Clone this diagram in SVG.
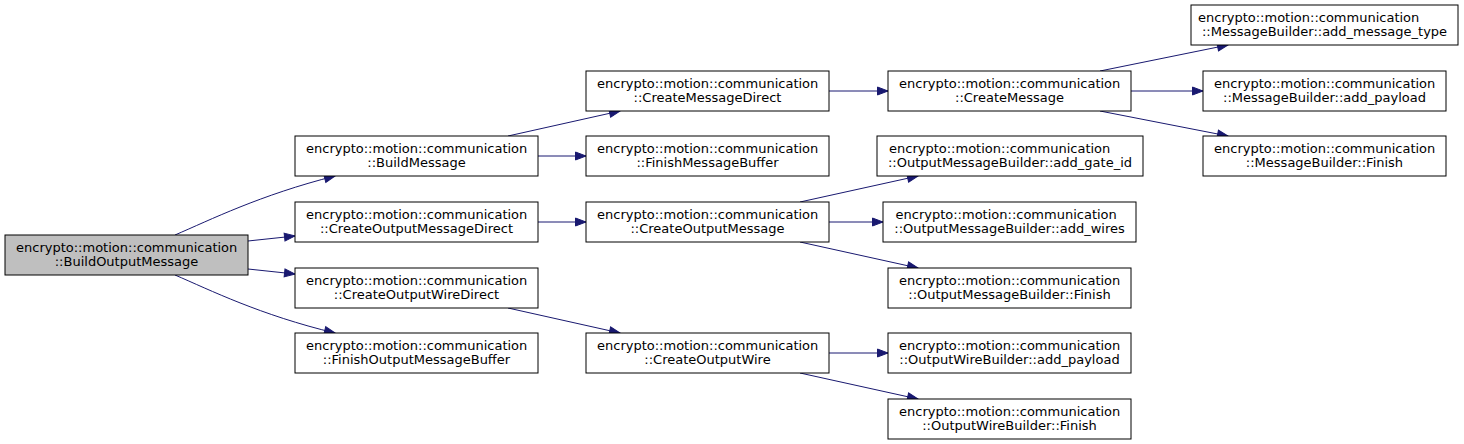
<svg xmlns="http://www.w3.org/2000/svg" width="1464" height="444" viewBox="0 0 1464 444">
<style>
  .node rect { fill: #ffffff; stroke: #000000; stroke-width: 1; }
  .node.root rect { fill: #bfbfbf; }
  .node text { font-family: "DejaVu Sans", "Liberation Sans", sans-serif; font-size: 13px; fill: #000000; }
  .node text.l2 { text-anchor: middle; }
  .edges path { fill: none; stroke: #191970; stroke-width: 1; marker-end: url(#arrow); }
</style>
<defs>
  <marker id="arrow" markerUnits="userSpaceOnUse" markerWidth="13" markerHeight="10" refX="11" refY="4.5" orient="auto" overflow="visible">
    <path d="M0.5,0.5 L11,4.5 L0.5,8.5 z" fill="#191970" stroke="#191970" stroke-width="1"/>
  </marker>
</defs>
<rect x="0" y="0" width="1464" height="444" fill="#ffffff"/>
<g id="connectors" class="edges">
  <path d="M175,235 C210,220 260,195 335,176"/>
  <path d="M248,241 L295,236"/>
  <path d="M248,269 L295,274"/>
  <path d="M175,275 C210,290 260,315 335,333"/>
  <path d="M508,136 L620,111"/>
  <path d="M538,156 L586,156"/>
  <path d="M538,222 L586,222"/>
  <path d="M508,308 L620,333"/>
  <path d="M829,91 L888,91"/>
  <path d="M800,202 L918,176"/>
  <path d="M829,222 L883,222"/>
  <path d="M800,242 L918,268"/>
  <path d="M829,353 L888,353"/>
  <path d="M800,373 L918,399"/>
  <path d="M1100,71 L1228,45"/>
  <path d="M1131,91 L1203,91"/>
  <path d="M1100,111 L1228,136"/>
</g>
<g id="n0" class="node root"><rect x="5" y="235" width="243" height="40"/><text x="16" y="252">encrypto::motion::communication</text><text class="l2" x="126.5" y="266">::BuildOutputMessage</text></g>
<g id="n1" class="node"><rect x="295" y="136" width="243" height="40"/><text x="306" y="153">encrypto::motion::communication</text><text class="l2" x="416.5" y="167">::BuildMessage</text></g>
<g id="n2" class="node"><rect x="295" y="202" width="243" height="40"/><text x="306" y="219">encrypto::motion::communication</text><text class="l2" x="416.5" y="233">::CreateOutputMessageDirect</text></g>
<g id="n3" class="node"><rect x="295" y="268" width="243" height="40"/><text x="306" y="285">encrypto::motion::communication</text><text class="l2" x="416.5" y="299">::CreateOutputWireDirect</text></g>
<g id="n4" class="node"><rect x="295" y="333" width="243" height="40"/><text x="306" y="350">encrypto::motion::communication</text><text class="l2" x="416.5" y="364">::FinishOutputMessageBuffer</text></g>
<g id="n5" class="node"><rect x="586" y="71" width="243" height="40"/><text x="597" y="88">encrypto::motion::communication</text><text class="l2" x="707.5" y="102">::CreateMessageDirect</text></g>
<g id="n6" class="node"><rect x="586" y="136" width="243" height="40"/><text x="597" y="153">encrypto::motion::communication</text><text class="l2" x="707.5" y="167">::FinishMessageBuffer</text></g>
<g id="n7" class="node"><rect x="586" y="202" width="243" height="40"/><text x="597" y="219">encrypto::motion::communication</text><text class="l2" x="707.5" y="233">::CreateOutputMessage</text></g>
<g id="n8" class="node"><rect x="586" y="333" width="243" height="40"/><text x="597" y="350">encrypto::motion::communication</text><text class="l2" x="707.5" y="364">::CreateOutputWire</text></g>
<g id="n9" class="node"><rect x="888" y="71" width="243" height="40"/><text x="899" y="88">encrypto::motion::communication</text><text class="l2" x="1009.5" y="102">::CreateMessage</text></g>
<g id="n10" class="node"><rect x="877" y="136" width="266" height="40"/><text x="889" y="153">encrypto::motion::communication</text><text class="l2" x="1010" y="167">::OutputMessageBuilder::add_gate_id</text></g>
<g id="n11" class="node"><rect x="883" y="202" width="253" height="40"/><text x="895.5" y="219">encrypto::motion::communication</text><text class="l2" x="1009.5" y="233">::OutputMessageBuilder::add_wires</text></g>
<g id="n12" class="node"><rect x="888" y="268" width="243" height="40"/><text x="899" y="285">encrypto::motion::communication</text><text class="l2" x="1009.5" y="299">::OutputMessageBuilder::Finish</text></g>
<g id="n13" class="node"><rect x="888" y="333" width="243" height="40"/><text x="899" y="350">encrypto::motion::communication</text><text class="l2" x="1009.5" y="364">::OutputWireBuilder::add_payload</text></g>
<g id="n14" class="node"><rect x="888" y="399" width="243" height="40"/><text x="899" y="416">encrypto::motion::communication</text><text class="l2" x="1009.5" y="430">::OutputWireBuilder::Finish</text></g>
<g id="n15" class="node"><rect x="1191" y="5" width="267" height="40"/><text x="1198" y="22">encrypto::motion::communication</text><text class="l2" x="1324.5" y="36">::MessageBuilder::add_message_type</text></g>
<g id="n16" class="node"><rect x="1203" y="71" width="243" height="40"/><text x="1214" y="88">encrypto::motion::communication</text><text class="l2" x="1324.5" y="102">::MessageBuilder::add_payload</text></g>
<g id="n17" class="node"><rect x="1203" y="136" width="243" height="40"/><text x="1214" y="153">encrypto::motion::communication</text><text class="l2" x="1324.5" y="167">::MessageBuilder::Finish</text></g>
</svg>
